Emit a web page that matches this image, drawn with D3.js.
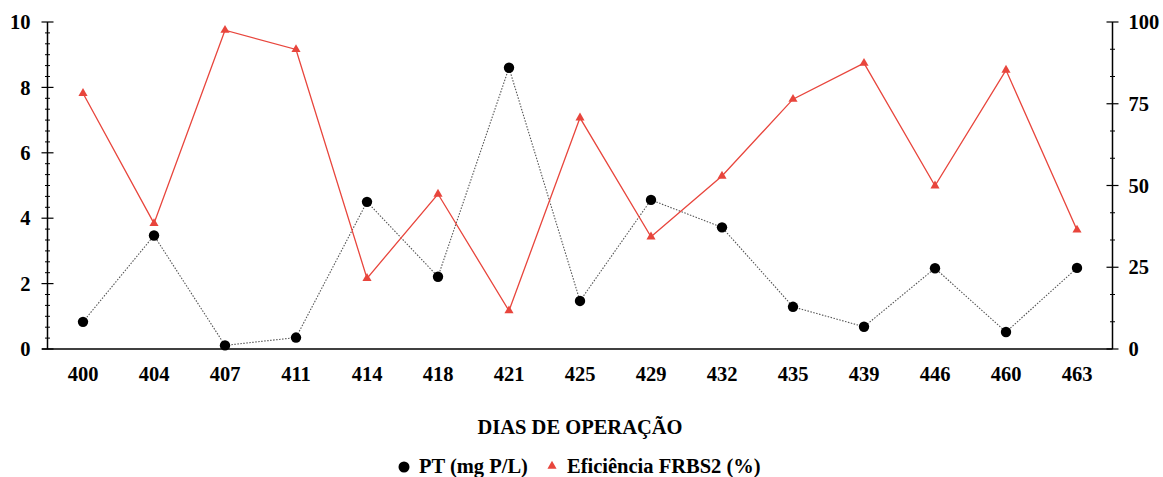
<!DOCTYPE html>
<html><head><meta charset="utf-8">
<script src="https://cdn.jsdelivr.net/npm/d3@7"></script>
<style>body{margin:0;background:#fff}svg{display:block}text{font-family:"Liberation Serif","Times New Roman",serif;font-weight:bold;fill:#000}</style>
</head><body><svg id="c" width="1163" height="477"></svg>
<script>
const days = ["400","404","407","411","414","418","421","425","429","432","435","439","446","460","463"];
const pt = [0.83,3.47,0.11,0.35,4.5,2.21,8.6,1.47,4.56,3.72,1.29,0.68,2.47,0.52,2.48];
const eficiencia = [78.2,38.4,97.5,91.6,21.6,47.4,11.7,70.7,34.3,52.9,76.4,87.4,49.9,85.3,36.4];
const leftTicks = [0,2,4,6,8,10];
const rightTicks = [0,25,50,75,100];
const xTitle = "DIAS DE OPERAÇÃO";
const legendLabels = ["PT (mg P/L)","Eficiência FRBS2 (%)"];

const svg = d3.select("#c");
const L = 47.5, R = 1112.5, T = 22, B = 349;
const x = d3.scalePoint().domain(days).range([L, R]).padding(0.5);
const yL = d3.scaleLinear().domain([0,10]).range([B, T]);
const yR = d3.scaleLinear().domain([0,100]).range([B, T]);
const red = "#e8453c";
const fs = 20.5;

// baseline
svg.append("line").attr("x1", 42).attr("x2", R).attr("y1", B).attr("y2", B).attr("stroke","#000").attr("stroke-width",1.5);

// left axis
const gl = svg.append("g").attr("transform",`translate(${L},0)`);
gl.append("line").attr("y1",T).attr("y2",B).attr("stroke","#000").attr("stroke-width",1.5);
const minorL = d3.range(0, 31).map(i => i/3).filter(v => Math.abs(v - Math.round(v/2)*2) > 0.01);
minorL.forEach(v => gl.append("line").attr("x1",-2.5).attr("x2",2.5).attr("y1",yL(v)).attr("y2",yL(v)).attr("stroke","#000").attr("stroke-width",1));
leftTicks.forEach(v => {
  gl.append("line").attr("x1",-6).attr("x2",6).attr("y1",yL(v)).attr("y2",yL(v)).attr("stroke","#000").attr("stroke-width",1.2);
  gl.append("text").attr("x",-17).attr("y",yL(v)).attr("dy","0.35em").attr("text-anchor","end").attr("font-size",fs).text(v);
});

// right axis
const gr = svg.append("g").attr("transform",`translate(${R},0)`);
gr.append("line").attr("y1",T).attr("y2",B).attr("stroke","#000").attr("stroke-width",1.5);
const minorR = d3.range(0, 13).map(i => i*25/3).filter(v => Math.abs(v - Math.round(v/25)*25) > 0.01);
minorR.forEach(v => gr.append("line").attr("x1",-2.5).attr("x2",2.5).attr("y1",yR(v)).attr("y2",yR(v)).attr("stroke","#000").attr("stroke-width",1));
rightTicks.forEach(v => {
  gr.append("line").attr("x1",-6).attr("x2",6).attr("y1",yR(v)).attr("y2",yR(v)).attr("stroke","#000").attr("stroke-width",1.2);
  gr.append("text").attr("x",16).attr("y",yR(v)).attr("dy","0.35em").attr("text-anchor","start").attr("font-size",fs).text(v);
});

// x labels
days.forEach(d => svg.append("text").attr("x",x(d)).attr("y",381).attr("text-anchor","middle").attr("font-size",fs).text(d));
svg.append("text").attr("x",(L+R)/2).attr("y",434).attr("text-anchor","middle").attr("font-size",fs).text(xTitle);

// PT line
const lineL = d3.line().x((d,i)=>x(days[i])).y(d=>yL(d));
svg.append("path").attr("d",lineL(pt)).attr("fill","none").attr("stroke","#555").attr("stroke-width",1.1).attr("stroke-dasharray","1.5,1.5");
// Efficiency line
const lineR = d3.line().x((d,i)=>x(days[i])).y(d=>yR(d));
svg.append("path").attr("d",lineR(eficiencia)).attr("fill","none").attr("stroke",red).attr("stroke-width",1.3);

const tri = d3.symbol().type(d3.symbolTriangle).size(36);
svg.selectAll(".tri").data(eficiencia).enter().append("path")
  .attr("transform",(d,i)=>`translate(${x(days[i])},${yR(d)})`).attr("d",tri).attr("fill",red);
svg.selectAll(".pt").data(pt).enter().append("circle")
  .attr("cx",(d,i)=>x(days[i])).attr("cy",d=>yL(d)).attr("r",5.2).attr("fill","#000");

// legend
const ly = 466;
svg.append("circle").attr("cx",404).attr("cy",ly+1).attr("r",5.5).attr("fill","#000");
svg.append("text").attr("x",419).attr("y",ly).attr("dy","0.35em").attr("font-size",fs).text(legendLabels[0]);
svg.append("path").attr("transform",`translate(552,${ly})`).attr("d",tri).attr("fill",red);
svg.append("text").attr("x",567).attr("y",ly).attr("dy","0.35em").attr("font-size",fs).text(legendLabels[1]);
</script></body></html>
